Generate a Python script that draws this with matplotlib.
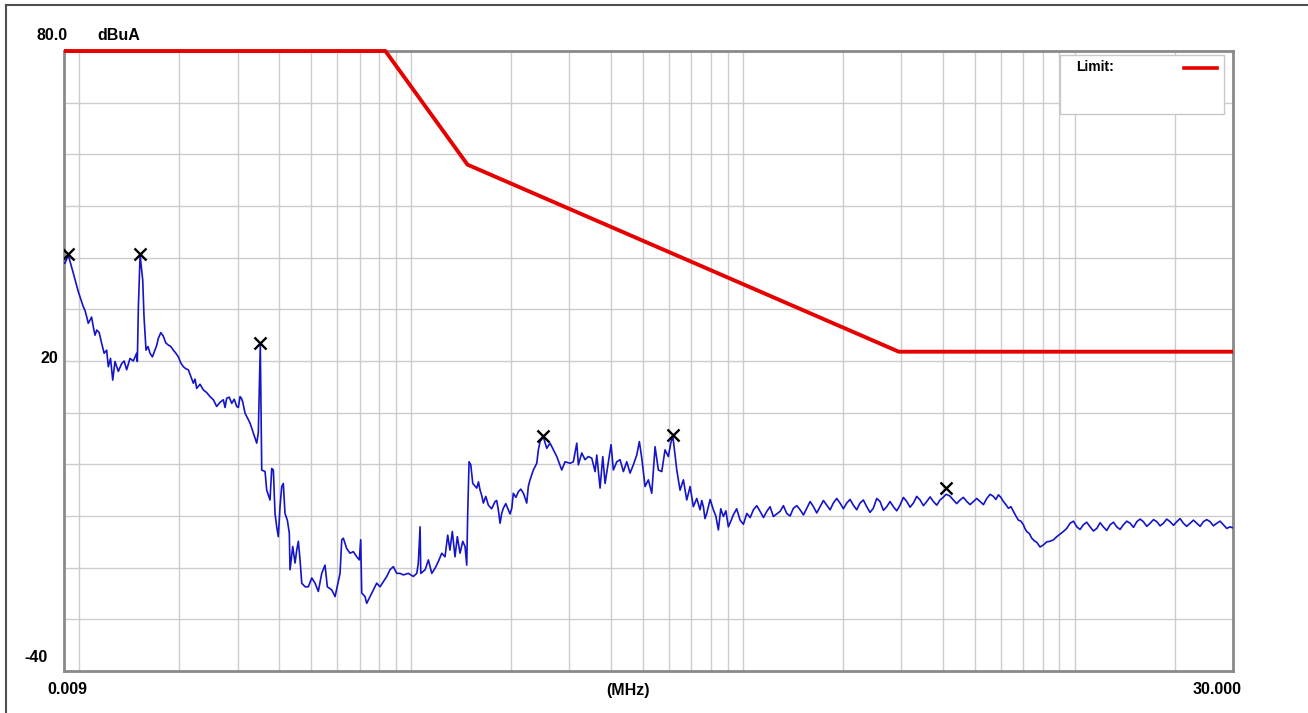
import matplotlib
matplotlib.use("Agg")
import matplotlib.pyplot as plt
from matplotlib.ticker import LogLocator, NullFormatter, FixedLocator
from matplotlib.patches import Rectangle
from matplotlib.lines import Line2D

# ---------------- data ----------------
limit_freq = [0.009, 0.0837, 0.148, 2.95, 30.0]
limit_level = [80.0, 80.0, 58.0, 21.8, 21.8]

trace_freq = [
    0.009, 0.00906, 0.00927, 0.0096, 0.00994, 0.01029, 0.01053, 0.01078, 0.01103, 0.0113,
    0.01169, 0.0121, 0.01224, 0.01262, 0.01282, 0.01343, 0.0139, 0.01423, 0.0149, 0.01497,
    0.01508, 0.01526, 0.01554, 0.01568, 0.0159, 0.01635, 0.01692, 0.01732, 0.01793, 0.01856,
    0.01922, 0.0199, 0.0206, 0.02133, 0.02208, 0.0226, 0.02367, 0.02479, 0.02596, 0.02719,
    0.02784, 0.02882, 0.02984, 0.03053, 0.0311, 0.03161, 0.03272, 0.03428, 0.03466, 0.0349,
    0.03514, 0.03549, 0.03632, 0.03674, 0.03759, 0.03804, 0.03847, 0.03892, 0.03938, 0.03982,
    0.04029, 0.04077, 0.04122, 0.04171, 0.04239, 0.04298, 0.04319, 0.04401, 0.04472, 0.04525,
    0.04576, 0.0463, 0.04685, 0.04794, 0.04905, 0.05022, 0.05138, 0.05256, 0.05382, 0.05506,
    0.05595, 0.05769, 0.05903, 0.06039, 0.06111, 0.06184, 0.06253, 0.06401, 0.0655, 0.06701,
    0.06862, 0.06986, 0.07053, 0.07103, 0.07268, 0.07354, 0.07524, 0.07699, 0.07882, 0.08066,
    0.08253, 0.0845, 0.08645, 0.08845, 0.09056, 0.09266, 0.09481, 0.0982, 0.1016, 0.1041,
    0.1052, 0.1065, 0.107, 0.1103, 0.1128, 0.1155, 0.1182, 0.1209, 0.1238, 0.1266,
    0.129, 0.131, 0.1332, 0.1357, 0.1379, 0.1405, 0.1432, 0.1455, 0.1472, 0.1482,
    0.1496, 0.1514, 0.1535, 0.1578, 0.1615, 0.1652, 0.171, 0.1792, 0.1833, 0.1855,
    0.1898, 0.1965, 0.2012, 0.2034, 0.2106, 0.2181, 0.2232, 0.2284, 0.2337, 0.2393,
    0.242, 0.2448, 0.2505, 0.2565, 0.2624, 0.2686, 0.275, 0.2846, 0.2912, 0.3015,
    0.3085, 0.3159, 0.3194, 0.327, 0.3345, 0.3423, 0.3505, 0.3587, 0.3629, 0.3713,
    0.3783, 0.3844, 0.3933, 0.4007, 0.4072, 0.417, 0.4266, 0.4365, 0.4469, 0.4572,
    0.4678, 0.4789, 0.4877, 0.4959, 0.5074, 0.5191, 0.5315, 0.5439, 0.5564, 0.5697,
    0.5828, 0.5964, 0.6064, 0.6149, 0.6206, 0.6323, 0.6468, 0.6619, 0.6776, 0.6934,
    0.7094, 0.7263, 0.743, 0.7604, 0.7785, 0.815, 0.8438, 0.8735, 0.9045, 0.936,
    0.981, 1.028, 1.076, 1.127, 1.181, 1.236, 1.295, 1.356, 1.42, 1.488,
    1.558, 1.632, 1.709, 1.79, 1.874, 1.963, 2.056, 2.153, 2.255, 2.362,
    2.473, 2.591, 2.714, 2.842, 2.977, 3.119, 3.265, 3.421, 3.583, 3.752,
    3.929, 4.097, 4.309, 4.514, 4.73, 4.952, 5.187, 5.434, 5.69, 5.89,
    6.098, 6.314, 6.537, 6.766, 7.006, 7.172, 7.425, 7.688, 8.049, 8.431,
    8.834, 9.247, 9.687, 10.15, 10.62, 11.13, 11.66, 12.2, 12.79, 13.39,
    14.02, 14.69, 15.39, 16.11, 16.88, 17.68, 18.51, 19.39, 20.31, 21.26,
    22.28, 23.34, 24.43, 25.59, 26.81, 28.07, 29.41, 30.0,
]
trace_level = [
    39.0, 38.9, 40.5, 37.0, 33.4, 30.5, 28.6, 27.9, 26.6, 26.0,
    23.4, 22.1, 18.9, 16.3, 19.9, 19.5, 18.3, 20.5, 21.5, 19.9,
    30.5, 40.5, 35.7, 28.6, 22.1, 21.5, 22.1, 24.4, 24.8, 23.1,
    22.1, 20.8, 18.9, 18.3, 15.7, 14.7, 14.4, 13.1, 11.2, 12.5,
    12.8, 11.8, 11.2, 13.1, 12.1, 9.9, 8.0, 4.1, 6.1, 14.4,
    23.1, -1.1, -1.4, -5.0, -6.9, -0.8, -1.1, -9.5, -12.1, -14.0,
    -8.2, -4.3, -3.7, -9.5, -10.8, -13.3, -20.4, -15.9, -19.1, -16.6,
    -14.9, -18.5, -23.0, -23.7, -23.7, -22.0, -23.0, -24.6, -21.1, -19.5,
    -23.7, -24.3, -25.6, -22.7, -21.1, -14.6, -14.3, -16.3, -17.2, -16.9,
    -17.9, -18.5, -14.6, -24.9, -25.6, -26.9, -25.6, -24.3, -23.0, -23.7,
    -22.7, -21.7, -20.4, -19.8, -21.1, -21.1, -21.4, -21.1, -21.7, -21.1,
    -19.1, -12.1, -21.1, -20.4, -18.5, -21.1, -20.1, -18.8, -17.2, -17.9,
    -13.7, -16.6, -13.0, -17.9, -14.0, -17.2, -14.9, -15.9, -19.5, -9.5,
    0.5, -0.1, -3.7, -4.6, -5.0, -7.5, -7.9, -7.2, -8.8, -11.4,
    -8.5, -8.8, -8.5, -5.6, -5.3, -5.6, -7.5, -3.0, -1.1, 0.2,
    2.8, 4.4, 5.3, 3.1, 4.1, 2.8, 1.5, -1.1, 0.5, 0.2,
    0.5, 4.1, -0.1, 2.2, 0.9, 1.5, 1.2, -1.4, 1.8, -4.6,
    1.5, -3.7, 0.5, 3.8, -1.1, 0.5, 0.9, -1.4, 0.5, -1.7,
    -0.1, 1.8, 4.4, 1.2, -4.3, -3.0, -5.6, 3.4, -1.1, -1.4,
    2.8, 1.5, 4.1, 5.5, 3.4, -1.1, -5.0, -3.0, -6.9, -4.3,
    -8.2, -6.6, -8.8, -8.2, -9.5, -8.8, -12.7, -10.1, -12.1, -9.8,
    -10.8, -9.5, -8.8, -9.1, -9.1, -10.1, -9.1, -9.5, -8.5, -8.8,
    -8.5, -8.2, -8.2, -7.9, -7.5, -7.5, -7.5, -7.9, -7.5, -8.2,
    -8.5, -7.2, -8.2, -8.2, -7.9, -7.2, -7.5, -6.9, -7.2, -7.2,
    -6.9, -5.8, -6.9, -6.9, -7.2, -7.2, -7.2, -6.6, -6.2, -5.9,
    -7.2, -8.5, -9.1, -10.8, -11.7, -13.0, -14.3, -15.1, -15.6, -14.9,
    -14.0, -13.0, -11.4, -12.1, -11.7, -12.1, -12.4, -12.1, -11.7, -12.1,
    -11.7, -11.4, -11.1, -11.1, -11.4, -11.1, -11.4, -11.1, -11.1, -11.4,
    -11.4, -11.4, -11.1, -11.1, -11.4, -11.7, -12.1, -12.3,
]

# finer ripple read between the main samples
detail_freq = [
    0.01041, 0.01065, 0.0109, 0.01116, 0.01149, 0.01189, 0.01243, 0.01312, 0.01366, 0.01456,
    0.01612, 0.01662, 0.01712, 0.01762, 0.01824, 0.01889, 0.01956, 0.02025, 0.02096, 0.0217,
    0.02234, 0.02313, 0.02422, 0.02537, 0.02657, 0.02751, 0.02833, 0.02932, 0.03018, 0.03082,
    0.1597, 0.1633, 0.168, 0.175, 0.1812, 0.1876, 0.193, 0.1988, 0.207, 0.2143,
    0.2206, 0.2258,
    0.752, 0.769, 0.797, 0.829, 0.858, 0.889, 0.92, 0.958, 1.004, 1.052,
    1.101, 1.154, 1.208, 1.265, 1.325, 1.388, 1.454, 1.523, 1.595, 1.67,
    1.749, 1.832, 1.918, 2.009, 2.104, 2.204, 2.308, 2.417, 2.532, 2.652,
    2.777, 2.909, 3.047, 3.191, 3.342, 3.501, 3.667, 3.84, 4.012, 4.202,
    4.41, 4.62, 4.84, 5.068, 5.31, 5.561, 5.79, 5.993, 6.205, 6.425,
    6.651, 6.885, 7.09, 7.3, 7.556, 7.866, 8.238, 8.63, 9.04, 9.465,
    9.916, 10.38, 10.87, 11.39, 11.93, 12.49, 13.09, 13.7, 14.35, 15.04,
    15.74, 16.49, 17.28, 18.09, 18.94, 19.85, 20.78, 21.76, 22.8, 23.88,
    25.0, 26.19, 27.43, 28.73,
]
detail_level = [
    29.8, 27.3, 28.5, 25.0, 25.5, 21.5, 20.5, 18.0, 20.0, 20.0,
    22.8, 20.8, 23.0, 25.5, 23.5, 22.8, 21.5, 19.6, 18.5, 17.0,
    16.5, 15.5, 13.9, 12.5, 12.0, 11.0, 13.0, 12.6, 11.0, 12.8,
    -3.4, -6.0, -6.2, -8.6, -7.0, -9.5, -7.6, -9.6, -6.4, -4.8,
    -6.5, -4.2,
    -7.0, -10.5, -6.8, -10.0, -8.6, -9.0, -11.0, -8.6, -11.6, -10.3,
    -8.0, -10.3, -8.2, -9.6, -8.0, -10.0, -8.0, -9.8, -7.2, -9.4,
    -7.0, -8.8, -6.6, -8.6, -6.8, -8.8, -6.9, -9.3, -6.6, -8.9,
    -7.2, -9.0, -6.4, -8.3, -6.2, -8.0, -6.3, -7.9, -6.4, -6.1,
    -7.6, -6.4, -7.8, -6.6, -7.8, -5.8, -6.8, -6.4, -7.8, -8.2,
    -10.0, -11.0, -12.5, -13.4, -14.8, -16.0, -15.0, -14.6, -13.5, -12.4,
    -11.0, -12.6, -11.2, -12.9, -11.3, -12.8, -11.2, -12.6, -11.0, -12.2,
    -10.6, -12.0, -10.7, -11.9, -10.6, -11.8, -10.5, -12.0, -10.8, -12.0,
    -10.7, -11.9, -11.0, -12.4,
]

marker_freq = [0.00927, 0.01526, 0.0351, 0.2505, 0.6149, 4.097]
marker_level = [40.8, 40.7, 23.5, 5.5, 5.7, -4.6]

y_labels = {80: "80.0", 20: "20", -40: "-40"}
x_labels = ["0.009", "(MHz)", "30.000"]
unit_label = "dBuA"
legend_label = "Limit:"

# merge main samples and ripple samples in frequency order
pairs = sorted(zip(trace_freq + detail_freq, trace_level + detail_level))
all_freq = [p[0] for p in pairs]
all_level = [p[1] for p in pairs]

# ---------------- figure ----------------
W, H = 1308, 713
fig = plt.figure(figsize=(W / 100, H / 100), dpi=100)
fig.patch.set_facecolor("white")

def fx(px):
    return px / W

def fy(py):
    return 1 - py / H

ax = fig.add_axes([fx(64), fy(671), fx(1233) - fx(64), fy(51) - fy(671)])
ax.set_xscale("log")
ax.set_xlim(0.009, 30.0)
ax.set_ylim(-40, 80)

ax.xaxis.set_major_locator(LogLocator(base=10, subs=(1.0,)))
ax.xaxis.set_minor_locator(LogLocator(base=10, subs=tuple(range(1, 10))))
ax.xaxis.set_major_formatter(NullFormatter())
ax.xaxis.set_minor_formatter(NullFormatter())
ax.yaxis.set_major_locator(FixedLocator(list(range(-40, 81, 10))))
ax.set_yticklabels([])
ax.tick_params(which="both", length=0)
ax.grid(True, which="both", axis="x", color="#cccccc", linewidth=1.0)
ax.grid(True, which="major", axis="y", color="#cccccc", linewidth=1.0)
ax.set_axisbelow(True)
for s in ax.spines.values():
    s.set_color("#8a8a8a")
    s.set_linewidth(2.0)

ax.plot(all_freq, all_level, color="#1414c8", linewidth=1.2, zorder=3)
ax.plot(limit_freq, limit_level, color="#e60000", linewidth=2.8, zorder=4,
        clip_on=False, solid_capstyle="butt")
ax.scatter(marker_freq, marker_level, marker="x", s=75, color="black",
           linewidths=1.7, zorder=5)

# legend box
leg = Rectangle((fx(1060), fy(114)), fx(1224) - fx(1060), fy(55) - fy(114),
                transform=fig.transFigure, facecolor="white", edgecolor="#c8c8c8",
                linewidth=1.0, zorder=10)
fig.patches.append(leg)
fig.text(fx(1076), fy(67), legend_label, fontsize=10, fontweight="bold",
         family="Liberation Sans", va="center", ha="left", zorder=11)
fig.lines.append(Line2D([fx(1184), fx(1217)], [fy(68), fy(68)],
                        transform=fig.transFigure, color="#e60000", linewidth=2.6,
                        zorder=11))

# axis texts
tkw = dict(fontsize=11.5, fontweight="bold", family="Liberation Sans", va="center")
fig.text(fx(68), fy(35), y_labels[80], ha="right", **tkw)
fig.text(fx(97), fy(35), unit_label, ha="left", **tkw)
fig.text(fx(58), fy(359), y_labels[20], ha="right", **tkw)
fig.text(fx(48), fy(657), y_labels[-40], ha="right", **tkw)
fig.text(fx(47), fy(690), x_labels[0], ha="left", **tkw)
fig.text(fx(628), fy(691), x_labels[1], ha="center", **tkw)
fig.text(fx(1242), fy(690), x_labels[2], ha="right", **tkw)

# outer window edge (left and top only)
fig.lines.append(Line2D([fx(6), fx(6)], [fy(5), 0.0], transform=fig.transFigure,
                        color="#505050", linewidth=1.5))
fig.lines.append(Line2D([fx(6), 1.0], [fy(5), fy(5)], transform=fig.transFigure,
                        color="#505050", linewidth=1.5))

fig.savefig("out.png", dpi=100, facecolor="white")
